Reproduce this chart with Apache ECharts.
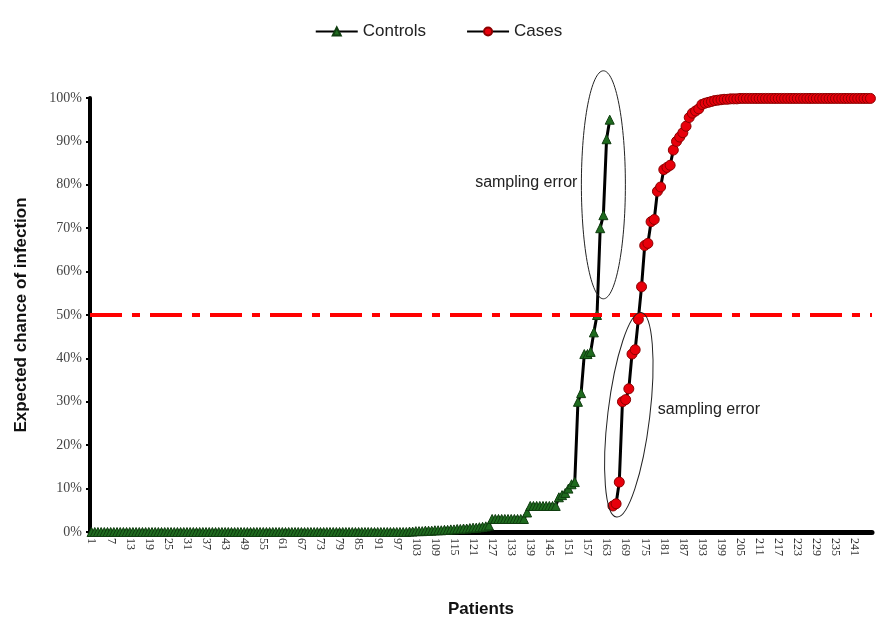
<!DOCTYPE html>
<html>
<head>
<meta charset="utf-8">
<script src="https://cdn.jsdelivr.net/npm/echarts@6/dist/echarts.min.js"></script>
<style>
  html, body { margin: 0; padding: 0; background: #fff; }
  #chart { width: 877px; height: 626px; }
</style>
</head>
<body>
<div id="chart"></div>
<script>
// patients 1..246 on the x axis
const patients = []
for (let i = 1; i <= 246; i++) patients.push(String(i))

// controls: patients 1..164 (percent)
const controls = [
    0, 0, 0, 0, 0, 0, 0, 0, 0, 0,
    0, 0, 0, 0, 0, 0, 0, 0, 0, 0,
    0, 0, 0, 0, 0, 0, 0, 0, 0, 0,
    0, 0, 0, 0, 0, 0, 0, 0, 0, 0,
    0, 0, 0, 0, 0, 0, 0, 0, 0, 0,
    0, 0, 0, 0, 0, 0, 0, 0, 0, 0,
    0, 0, 0, 0, 0, 0, 0, 0, 0, 0,
    0, 0, 0, 0, 0, 0, 0, 0, 0, 0,
    0, 0, 0, 0, 0, 0, 0, 0, 0, 0,
    0, 0, 0, 0, 0, 0, 0, 0, 0, 0,
    0.1, 0.1, 0.2, 0.2, 0.2, 0.3, 0.3, 0.3, 0.4, 0.4,
    0.4, 0.5, 0.5, 0.6, 0.6, 0.7, 0.7, 0.8, 0.8, 0.9,
    1.0, 1.0, 1.1, 1.2, 1.3, 1.5,
    3, 3, 3, 3, 3, 3, 3, 3, 3, 3, 3,
    4.5,
    6, 6, 6, 6, 6, 6, 6, 6, 6,
    8, 8.5, 9, 10, 11, 11.5, 30, 32, 41, 41, 41.5, 46, 50, 70, 73, 90.5, 95
]

// cases: patients 165..246 (percent)
const cases = [
    6, 6.5, 11.5, 30, 30.5, 33, 41, 42, 49, 56.5,
    66, 66.5, 71.5, 72, 78.5, 79.5, 83.5, 84, 84.5, 88,
    90, 91, 92, 93.5, 95.5, 96.5, 97, 97.5, 98.5, 98.8,
    99, 99.2, 99.4, 99.5, 99.6, 99.7, 99.7, 99.8, 99.8, 99.8,
    99.9, 99.9, 99.9, 99.9, 99.9, 99.9, 99.9, 99.9, 99.9, 99.9,
    99.9, 99.9, 99.9, 99.9, 99.9, 99.9, 99.9, 99.9, 99.9, 99.9,
    99.9, 99.9, 99.9, 99.9, 99.9, 99.9, 99.9, 99.9, 99.9, 99.9,
    99.9, 99.9, 99.9, 99.9, 99.9, 99.9, 99.9, 99.9, 99.9, 99.9,
    99.9, 99.9
]

const threshold = 50

const controlsData = controls.concat(new Array(patients.length - controls.length).fill(null))
const casesData = new Array(patients.length - cases.length).fill(null).concat(cases)

const chart = echarts.init(document.getElementById('chart'))

chart.setOption({
    backgroundColor: '#fff',
    animation: false,
    legend: {
        top: 18,
        left: 'center',
        itemWidth: 42,
        itemHeight: 10,
        itemGap: 40,
        textStyle: { fontFamily: 'Liberation Sans', fontSize: 17, color: '#222' },
        data: ['Controls', 'Cases']
    },
    grid: { left: 90, right: 5, top: 98, bottom: 94 },
    xAxis: {
        type: 'category',
        data: patients,
        name: 'Patients',
        nameLocation: 'middle',
        nameGap: 69,
        nameTextStyle: { fontFamily: 'Liberation Sans', fontSize: 17, fontWeight: 'bold', color: '#111' },
        axisLine: { lineStyle: { color: '#000', width: 5 } },
        axisTick: { show: false },
        axisLabel: {
            interval: 5,
            rotate: -90,
            margin: 6,
            fontFamily: 'Liberation Serif',
            fontSize: 12,
            color: '#333'
        }
    },
    yAxis: {
        type: 'value',
        min: 0,
        max: 100,
        interval: 10,
        name: 'Expected chance of infection',
        nameLocation: 'middle',
        nameGap: 60,
        nameTextStyle: { fontFamily: 'Liberation Sans', fontSize: 17, fontWeight: 'bold', color: '#111' },
        axisLine: { show: true, lineStyle: { color: '#000', width: 4 } },
        axisTick: { show: true, length: 4, lineStyle: { color: '#000', width: 2 } },
        splitLine: { show: false },
        axisLabel: {
            formatter: '{value}%',
            margin: 8,
            fontFamily: 'Liberation Serif',
            fontSize: 14,
            color: '#444'
        }
    },
    series: [
        {
            name: 'Controls',
            type: 'line',
            data: controlsData,
            symbol: 'triangle',
            symbolSize: 9,
            showAllSymbol: true,
            lineStyle: { color: '#000', width: 3 },
            itemStyle: { color: '#1f6b1f', borderColor: '#0f3d0f', borderWidth: 1 },
            z: 3
        },
        {
            name: 'Cases',
            type: 'line',
            data: casesData,
            symbol: 'circle',
            symbolSize: 10,
            showAllSymbol: true,
            lineStyle: { color: '#000', width: 3 },
            itemStyle: { color: '#e8000b', borderColor: '#8b0000', borderWidth: 1 },
            z: 4,
            markLine: {
                silent: true,
                symbol: 'none',
                label: { show: false },
                lineStyle: { color: '#ff0000', width: 4, type: [32, 10, 8, 10] },
                data: [{ yAxis: threshold }]
            }
        }
    ]
})

// annotations: ellipses around the sampling-error points
const c1 = chart.convertToPixel({ xAxisIndex: 0, yAxisIndex: 0 }, ['162', 80])
const c2 = chart.convertToPixel({ xAxisIndex: 0, yAxisIndex: 0 }, ['170', 27])

chart.setOption({
    graphic: [
        {
            type: 'ellipse',
            shape: { cx: c1[0], cy: c1[1], rx: 22, ry: 114 },
            style: { fill: 'none', stroke: '#222', lineWidth: 1 },
            z: 10
        },
        {
            type: 'ellipse',
            x: c2[0], y: c2[1],
            rotation: -0.12,
            shape: { cx: 0, cy: 0, rx: 21, ry: 103 },
            style: { fill: 'none', stroke: '#222', lineWidth: 1 },
            z: 10
        },
        {
            type: 'text',
            x: c1[0] - 26, y: c1[1] - 2,
            style: {
                text: 'sampling error',
                fill: '#222',
                font: '16px "Liberation Sans"',
                textAlign: 'right',
                textVerticalAlign: 'middle'
            },
            z: 10
        },
        {
            type: 'text',
            x: c2[0] + 29, y: c2[1] - 5,
            style: {
                text: 'sampling error',
                fill: '#222',
                font: '16px "Liberation Sans"',
                textAlign: 'left',
                textVerticalAlign: 'middle'
            },
            z: 10
        }
    ]
})
</script>
</body>
</html>
